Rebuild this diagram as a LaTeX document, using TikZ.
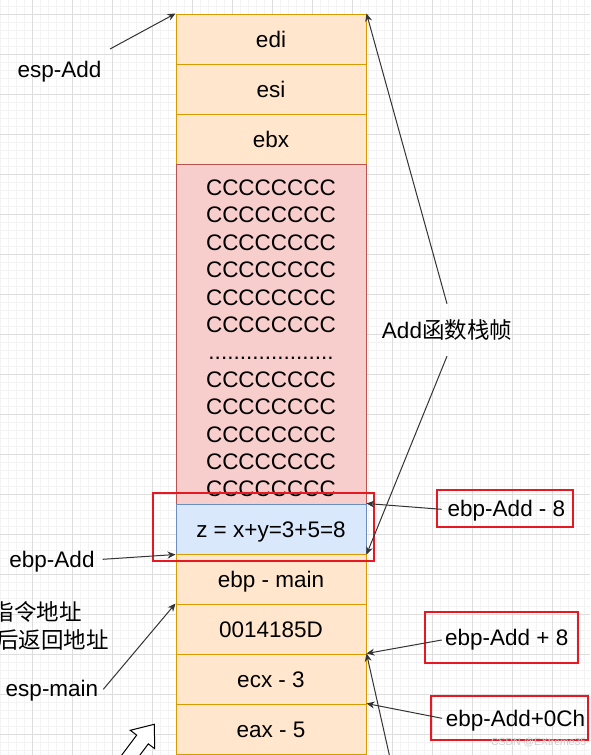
\documentclass[tikz,border=0pt]{standalone}
\usepackage{fontspec}
\setmainfont{Liberation Sans}
\newfontfamily\cjk{Noto Sans CJK SC}
\usetikzlibrary{arrows.meta,calc}
\definecolor{ofill}{HTML}{FFE6CC}
\definecolor{oline}{HTML}{D79B00}
\definecolor{rfill}{HTML}{F8CECC}
\definecolor{rline}{HTML}{B85450}
\definecolor{bfill}{HTML}{DAE8FC}
\definecolor{bline}{HTML}{6C8EBF}
\definecolor{hred}{RGB}{230,25,35}
\definecolor{minorgrid}{HTML}{F3F3F3}
\definecolor{majorgrid}{HTML}{DDDDDD}
\definecolor{conncol}{HTML}{333333}
\begin{document}
\begin{tikzpicture}[x=1pt,y=-1pt,
  font=\fontsize{22.5}{27.2}\selectfont,
  cell/.style={draw=oline, fill=ofill, line width=1pt, minimum width=190pt, minimum height=50pt, inner sep=0pt, text height=16pt, text depth=0pt},
  padcell/.style={draw=rline, fill=rfill, line width=1pt, minimum width=190pt, minimum height=340pt, inner sep=0pt, align=center, font=\fontsize{22.5}{27.4}\selectfont},
  zcell/.style={draw=bline, fill=bfill, line width=1pt, minimum width=190pt, minimum height=50pt, inner sep=0pt, text height=16pt, text depth=0pt},
  hl/.style={draw=hred, line width=2pt, inner sep=0pt},
  hlbox/.style={draw=hred, line width=2pt, inner sep=0pt, text height=16pt, text depth=0pt},
  lbl/.style={inner sep=0pt, text height=16pt, text depth=0pt},
  conn/.style={draw=conncol, line width=1pt, -{Stealth[length=8pt,width=7pt]}},
  hollow/.style={draw=black, fill=white, line width=1pt, line join=miter}
]
\useasboundingbox (0,0) rectangle (590,755);
\fill[white] (0,0) rectangle (590,755);
% grid
\foreach \x in {0,8,...,592} \draw[minorgrid, line width=0.8pt] (\x,0) -- (\x,755);
\foreach \y in {6,14,...,754} \draw[minorgrid, line width=0.8pt] (0,\y) -- (590,\y);
\foreach \x in {32,72,...,592} \draw[majorgrid, line width=0.8pt] (\x,0) -- (\x,755);
\foreach \y in {14,54,...,754} \draw[majorgrid, line width=0.8pt] (0,\y) -- (590,\y);

% stack
\node[cell] (edi) at (271,39) {edi};
\node[cell] (esi) at (271,89) {esi};
\node[cell] (ebx) at (271,139) {ebx};
\node[padcell] (cc) at (271,334) {\rule{0pt}{24.5pt}CCCCCCCC\\CCCCCCCC\\CCCCCCCC\\CCCCCCCC\\CCCCCCCC\\CCCCCCCC\\....................\\CCCCCCCC\\CCCCCCCC\\CCCCCCCC\\CCCCCCCC\\CCCCCCCC};
\node[zcell] (zc) at (271,529) {z = x+y=3+5=8};
\node[cell] (ebpmain) at (271,579) {ebp - main};
\node[cell] (ret) at (271,629) {0014185D};
\node[cell] (ecx) at (271,679) {ecx - 3};
\node[cell] (eax) at (271,729) {eax - 5};

% highlight around z
\node[hl, minimum width=221.6pt, minimum height=67.7pt] (hz) at (263.5,527.2) {};

% left labels
\node[lbl] (espadd) at (59.5,69.5) {esp-Add};
\node[lbl] (ebpadd) at (52,559) {ebp-Add};
\node[lbl, anchor=east] (cn1) at (82,612) {\cjk 指令地址};
\node[lbl, anchor=east] (cn2) at (109,640) {\cjk 后返回地址};
\node[lbl] (espmain) at (52,688) {esp-main};

% right labels
\node[lbl, inner ysep=18pt] (frame) at (447,330) {Add{\cjk 函数栈帧}};
\node[hlbox, minimum width=136.6pt, minimum height=36.7pt] (m8) at (505,508.3) {\hspace{3pt}ebp-Add - 8};
\node[hlbox, minimum width=153.3pt, minimum height=51pt] (p8) at (501.7,637.8) {\hspace{10pt}ebp-Add + 8};
\node[hlbox, minimum width=157pt, minimum height=44pt] (p12) at (509.5,718) {\hspace{12pt}ebp-Add+0Ch};

% connector free ends
\coordinate (espaddS) at (110,49);
\coordinate (ebpaddS) at (102.7,559.3);
\coordinate (espmainS) at (103.3,689.3);
\coordinate (lowS) at (390,758);

\draw[conn] (espaddS) -- (edi.north west);
\draw[conn] (ebpaddS) -- (zc.south west);
\draw[conn] (espmainS) -- (ret.north west);
\draw[conn] (frame.north) -- (edi.north east);
\draw[conn] (frame.south) -- (zc.south east);
\draw[conn] ($(m8.west)+(6,1)$) -- (zc.north east);
\draw[conn] ($(p8.west)+(17.7,2.2)$) -- (ecx.north east);
\draw[conn] ($(p12.west)+(12,0.3)$) -- (eax.north east);
\draw[conn] (lowS) -- (ecx.north east);

% hollow block arrow
\draw[hollow] (154.3,724.3) -- (130.3,730.3) -- (136.7,735.1) -- (112.7,767.1) -- (124.3,775.9) -- (148.3,743.9) -- (154.7,748.7) -- cycle;

% watermark
\node[inner sep=0pt, font=\fontsize{10.4}{12}\selectfont, text=gray!40] (wm) at (538.7,742.7) {CSDN @EXtreme35};
\end{tikzpicture}
\end{document}
